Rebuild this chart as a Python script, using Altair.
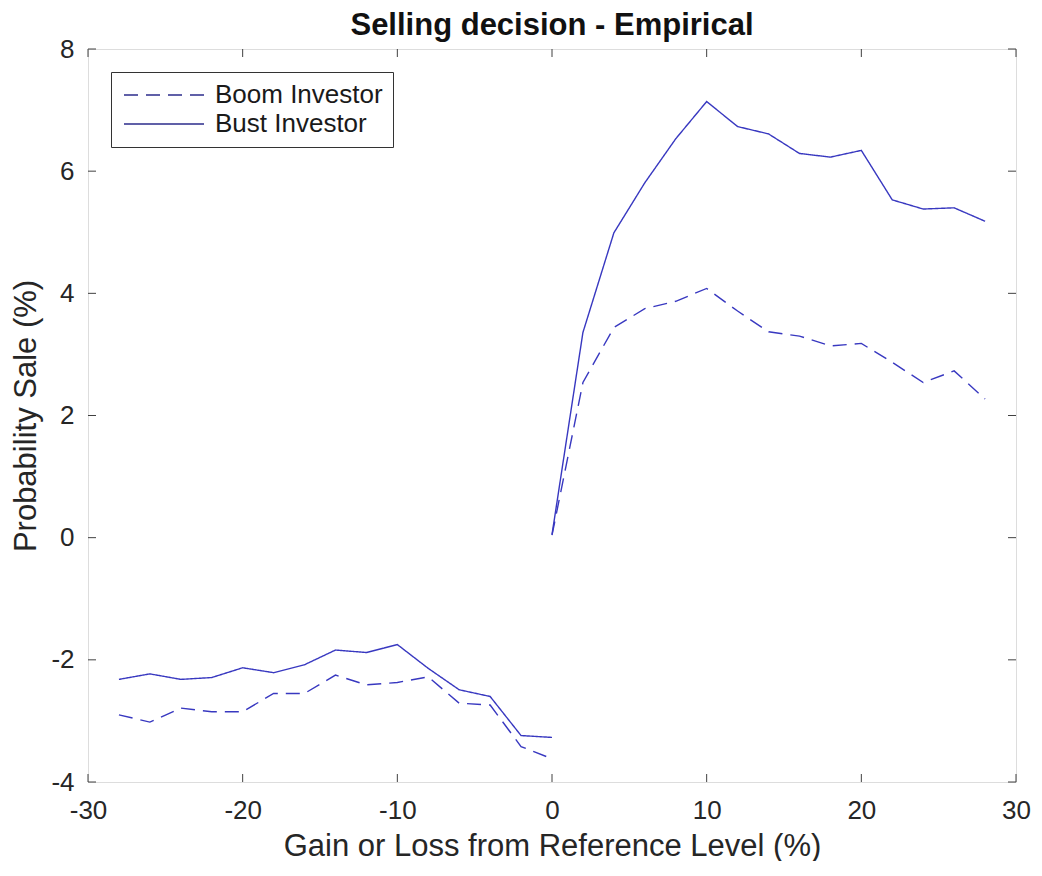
import altair as alt
import pandas as pd

# ---- data ----
x_left = [-28, -26, -24, -22, -20, -18, -16, -14, -12, -10, -8, -6, -4, -2, 0]
bust_left = [-2.32, -2.23, -2.32, -2.29, -2.13, -2.21, -2.08, -1.84, -1.88, -1.75, -2.14, -2.49, -2.60, -3.24, -3.27]
boom_left = [-2.90, -3.02, -2.79, -2.85, -2.85, -2.55, -2.55, -2.25, -2.41, -2.37, -2.28, -2.71, -2.74, -3.42, -3.62]

x_right = [0, 2, 4, 6, 8, 10, 12, 14, 16, 18, 20, 22, 24, 26, 28]
bust_right = [0.05, 3.36, 4.99, 5.81, 6.53, 7.14, 6.73, 6.61, 6.29, 6.23, 6.34, 5.53, 5.38, 5.40, 5.18]
boom_right = [0.04, 2.54, 3.44, 3.75, 3.87, 4.08, 3.71, 3.37, 3.30, 3.14, 3.18, 2.87, 2.54, 2.73, 2.27]

series_names = ["Boom Investor", "Bust Investor"]
x_ticks = [-30, -20, -10, 0, 10, 20, 30]
y_ticks = [-4, -2, 0, 2, 4, 6, 8]

rows = []
for seg, xs, boom, bust in [("loss", x_left, boom_left, bust_left),
                            ("gain", x_right, boom_right, bust_right)]:
    for xv, b1, b2 in zip(xs, boom, bust):
        rows.append({"x": xv, "y": b1, "series": series_names[0], "seg": seg})
        rows.append({"x": xv, "y": b2, "series": series_names[1], "seg": seg})
df = pd.DataFrame(rows)
df["grp"] = df["series"] + "_" + df["seg"]

W, H = 928, 733
LINE = "#3838c0"
FONT = "Liberation Sans"
TXT = "#262626"

xscale = alt.Scale(domain=[-30, 30], nice=False, zero=False)
yscale = alt.Scale(domain=[-4, 8], nice=False, zero=False)

xaxis = alt.Axis(values=x_ticks, title="Gain or Loss from Reference Level (%)",
                 labelExpr="toString(datum.value)",
                 grid=False, domain=False, ticks=False, tickSize=0,
                 labelFontSize=26, labelPadding=15, labelColor=TXT,
                 titleFontSize=31, titleFontWeight="normal", titleColor=TXT,
                 titlePadding=8, labelFont=FONT, titleFont=FONT, labelFlush=False)
yaxis = alt.Axis(values=y_ticks, title="Probability Sale (%)",
                 labelExpr="toString(datum.value)",
                 grid=False, domain=False, ticks=False, tickSize=0,
                 labelFontSize=26, labelPadding=14, labelColor=TXT,
                 titleFontSize=31, titleFontWeight="normal", titleColor=TXT,
                 titlePadding=8, labelFont=FONT, titleFont=FONT, labelFlush=False)

lines = alt.Chart(df).mark_line(color=LINE, strokeWidth=1.4).encode(
    x=alt.X("x:Q", scale=xscale, axis=xaxis),
    y=alt.Y("y:Q", scale=yscale, axis=yaxis),
    strokeDash=alt.StrokeDash(
        "series:N",
        scale=alt.Scale(domain=series_names, range=[[14, 8], [1, 0]]),
        legend=alt.Legend(title=None, orient="none", legendX=23, legendY=23,
                          strokeColor="#333333", fillColor="white", padding=10,
                          labelFontSize=26, labelFont=FONT, labelColor="#1a1a1a",
                          labelLimit=400,
                          symbolType="M-4,0L4,0", symbolSize=400, symbolStrokeWidth=1.4,
                          symbolStrokeColor="#2c2c8c", symbolFillColor="transparent",
                          symbolOffset=30, labelOffset=38, rowPadding=3,
                          cornerRadius=0),
    ),
    detail="grp:N",
    order="x:Q",
)

xt = pd.DataFrame({"t": x_ticks})
yt = pd.DataFrame({"t": y_ticks})
tick_style = dict(color="#404040", strokeWidth=1)
bottom_ticks = alt.Chart(xt).mark_rule(**tick_style).encode(
    x=alt.X("t:Q", scale=xscale), y=alt.value(H), y2=alt.value(H - 8))
top_ticks = alt.Chart(xt).mark_rule(**tick_style).encode(
    x=alt.X("t:Q", scale=xscale), y=alt.value(0), y2=alt.value(8))
left_ticks = alt.Chart(yt).mark_rule(**tick_style).encode(
    y=alt.Y("t:Q", scale=yscale), x=alt.value(0), x2=alt.value(8))
right_ticks = alt.Chart(yt).mark_rule(**tick_style).encode(
    y=alt.Y("t:Q", scale=yscale), x=alt.value(W), x2=alt.value(W - 8))

chart = alt.layer(lines, bottom_ticks, top_ticks, left_ticks, right_ticks).properties(
    width=W, height=H,
    title=alt.TitleParams("Selling decision - Empirical", fontSize=31, font=FONT,
                          fontWeight="bold", color="#111111", anchor="middle",
                          frame="group", offset=-6),
    autosize=alt.AutoSizeParams(type="pad"),
    padding={"left": 2, "top": 2, "right": 0, "bottom": 0},
).configure_view(stroke="#404040", strokeWidth=1.2).configure(background="white")

chart.save("out.html", embed_options={"renderer": "svg", "actions": False})
